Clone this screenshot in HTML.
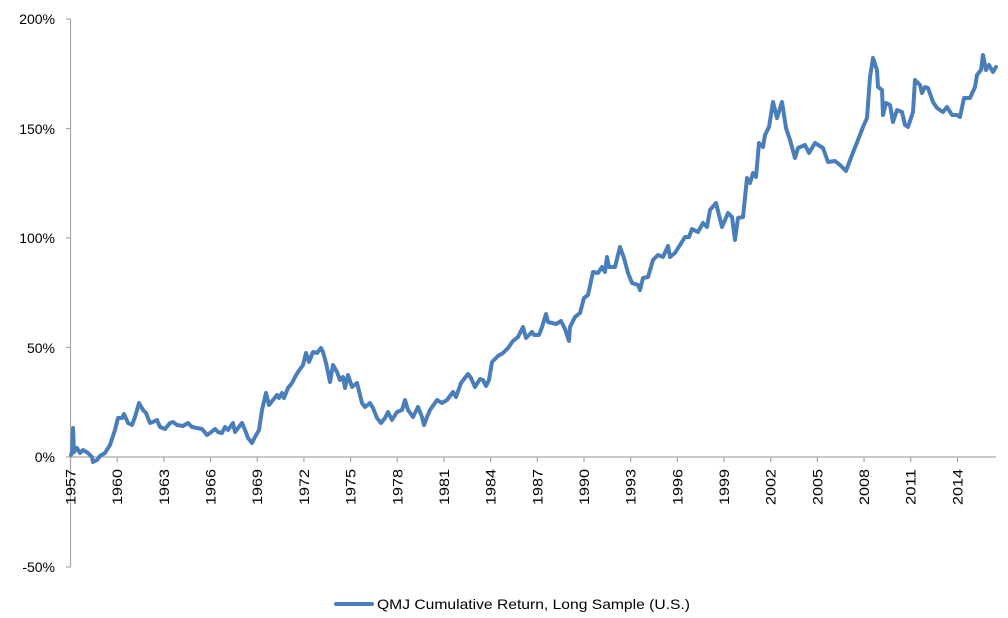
<!DOCTYPE html>
<html><head><meta charset="utf-8"><style>
html,body{margin:0;padding:0;background:#fff;}
svg{display:block;font-family:"Liberation Sans",sans-serif;}
</style></head><body>
<svg width="1008" height="618" viewBox="0 0 1008 618" xmlns="http://www.w3.org/2000/svg">
<g stroke="#a6a6a6" stroke-width="1.2" fill="none">
<line x1="70.5" y1="19" x2="70.5" y2="567"/>
<line x1="70.5" y1="457" x2="996" y2="457"/>
<line x1="66" y1="19" x2="70.5" y2="19"/>
<line x1="66" y1="128.5" x2="70.5" y2="128.5"/>
<line x1="66" y1="238" x2="70.5" y2="238"/>
<line x1="66" y1="347.5" x2="70.5" y2="347.5"/>
<line x1="66" y1="457" x2="70.5" y2="457"/>
<line x1="66" y1="567" x2="70.5" y2="567"/>
</g>
<g stroke="#a6a6a6" stroke-width="1.2" id="xt"></g>
<g font-size="14" fill="#000" text-anchor="end">
<text x="55" y="24">200%</text>
<text x="55" y="134">150%</text>
<text x="55" y="243">100%</text>
<text x="55" y="353">50%</text>
<text x="55" y="462">0%</text>
<text x="55" y="572">-50%</text>
</g>
<g font-size="14" fill="#000" id="xl"></g>
<polyline fill="none" stroke="#4a7ebb" stroke-width="4" stroke-linejoin="round" stroke-linecap="round" points="
71,455 72,453 73,428 74,452 77,448 80,453 83,450 88,453 92,457 93,462 97,460 100,456 105,453 110,445 115,430 118,418 122,418 124,414 128,423 132,425 135,417 139,403 143,410 146,413 150,423 153,422 157,420 160,427 165,429 170,423 173,422 177,425 183,426 188,423 192,427 197,428 202,429 207,435 210,433 215,429 218,432 222,433 225,427 228,430 233,423 235,432 242,423 245,430 248,438 252,443 255,437 259,430 262,410 266,393 269,405 273,400 277,395 279,398 282,393 284,398 288,388 292,383 295,377 298,372 303,365 306,353 309,362 313,352 317,353 321,348 323,352 326,363 330,382 333,365 337,372 340,380 343,377 345,388 348,375 352,387 357,383 362,403 365,407 370,403 373,408 377,418 381,423 385,418 388,412 392,420 397,412 402,410 405,400 408,410 413,417 418,407 422,417 424,425 427,417 430,410 437,400 442,403 447,400 453,392 456,397 461,383 468,374 471,378 475,387 480,379 483,380 486,386 489,380 492,362 498,356 503,353 508,348 513,341 518,337 523,327 526,338 532,332 534,335 539,335 542,327 546,314 548,322 556,324 561,321 565,329 569,341 570,327 575,317 580,313 584,298 588,295 593,272 598,273 602,267 605,272 607,257 609,267 615,267 620,247 624,258 628,273 632,283 638,285 640,290 643,278 648,277 653,260 658,255 663,257 668,246 670,257 675,253 680,245 685,237 689,237 692,229 698,232 703,223 707,227 710,210 716,203 722,227 728,213 732,217 735,240 738,218 743,217 747,178 750,183 753,173 756,177 759,143 763,147 765,135 769,127 773,102 777,118 782,102 786,128 790,140 795,158 798,148 805,145 809,153 815,143 823,148 828,162 835,161 840,165 846,171 852,155 858,140 863,127 867,118 870,77 873,58 877,70 878,87 882,90 883,115 886,103 890,105 893,122 897,110 902,112 905,125 908,127 913,112 915,80 920,85 922,93 925,87 928,88 933,102 937,108 943,112 947,107 952,115 957,115 960,117 964,98 970,98 975,87 977,75 981,70 983,55 986,70 989,65 993,72 996,67"/>
<line x1="336" y1="604" x2="372" y2="604" stroke="#4a7ebb" stroke-width="4" stroke-linecap="round"/>
<text x="377" y="609" font-size="14" textLength="313" lengthAdjust="spacingAndGlyphs">QMJ Cumulative Return, Long Sample (U.S.)</text>
<script>
(function(){var ns="http://www.w3.org/2000/svg",t=document.getElementById("xt"),l=document.getElementById("xl");
for(var i=0;i<=19;i++){var x=70.5+i*46.68,y=1957+3*i;
var ln=document.createElementNS(ns,"line");ln.setAttribute("x1",x);ln.setAttribute("x2",x);ln.setAttribute("y1",457);ln.setAttribute("y2",462);t.appendChild(ln);
var tx=document.createElementNS(ns,"text");tx.setAttribute("transform","translate("+(x+5)+",505) rotate(-90)");tx.setAttribute("textLength","36");tx.setAttribute("lengthAdjust","spacingAndGlyphs");tx.textContent=y;l.appendChild(tx);}
})();
</script>
</svg>
</body></html>
